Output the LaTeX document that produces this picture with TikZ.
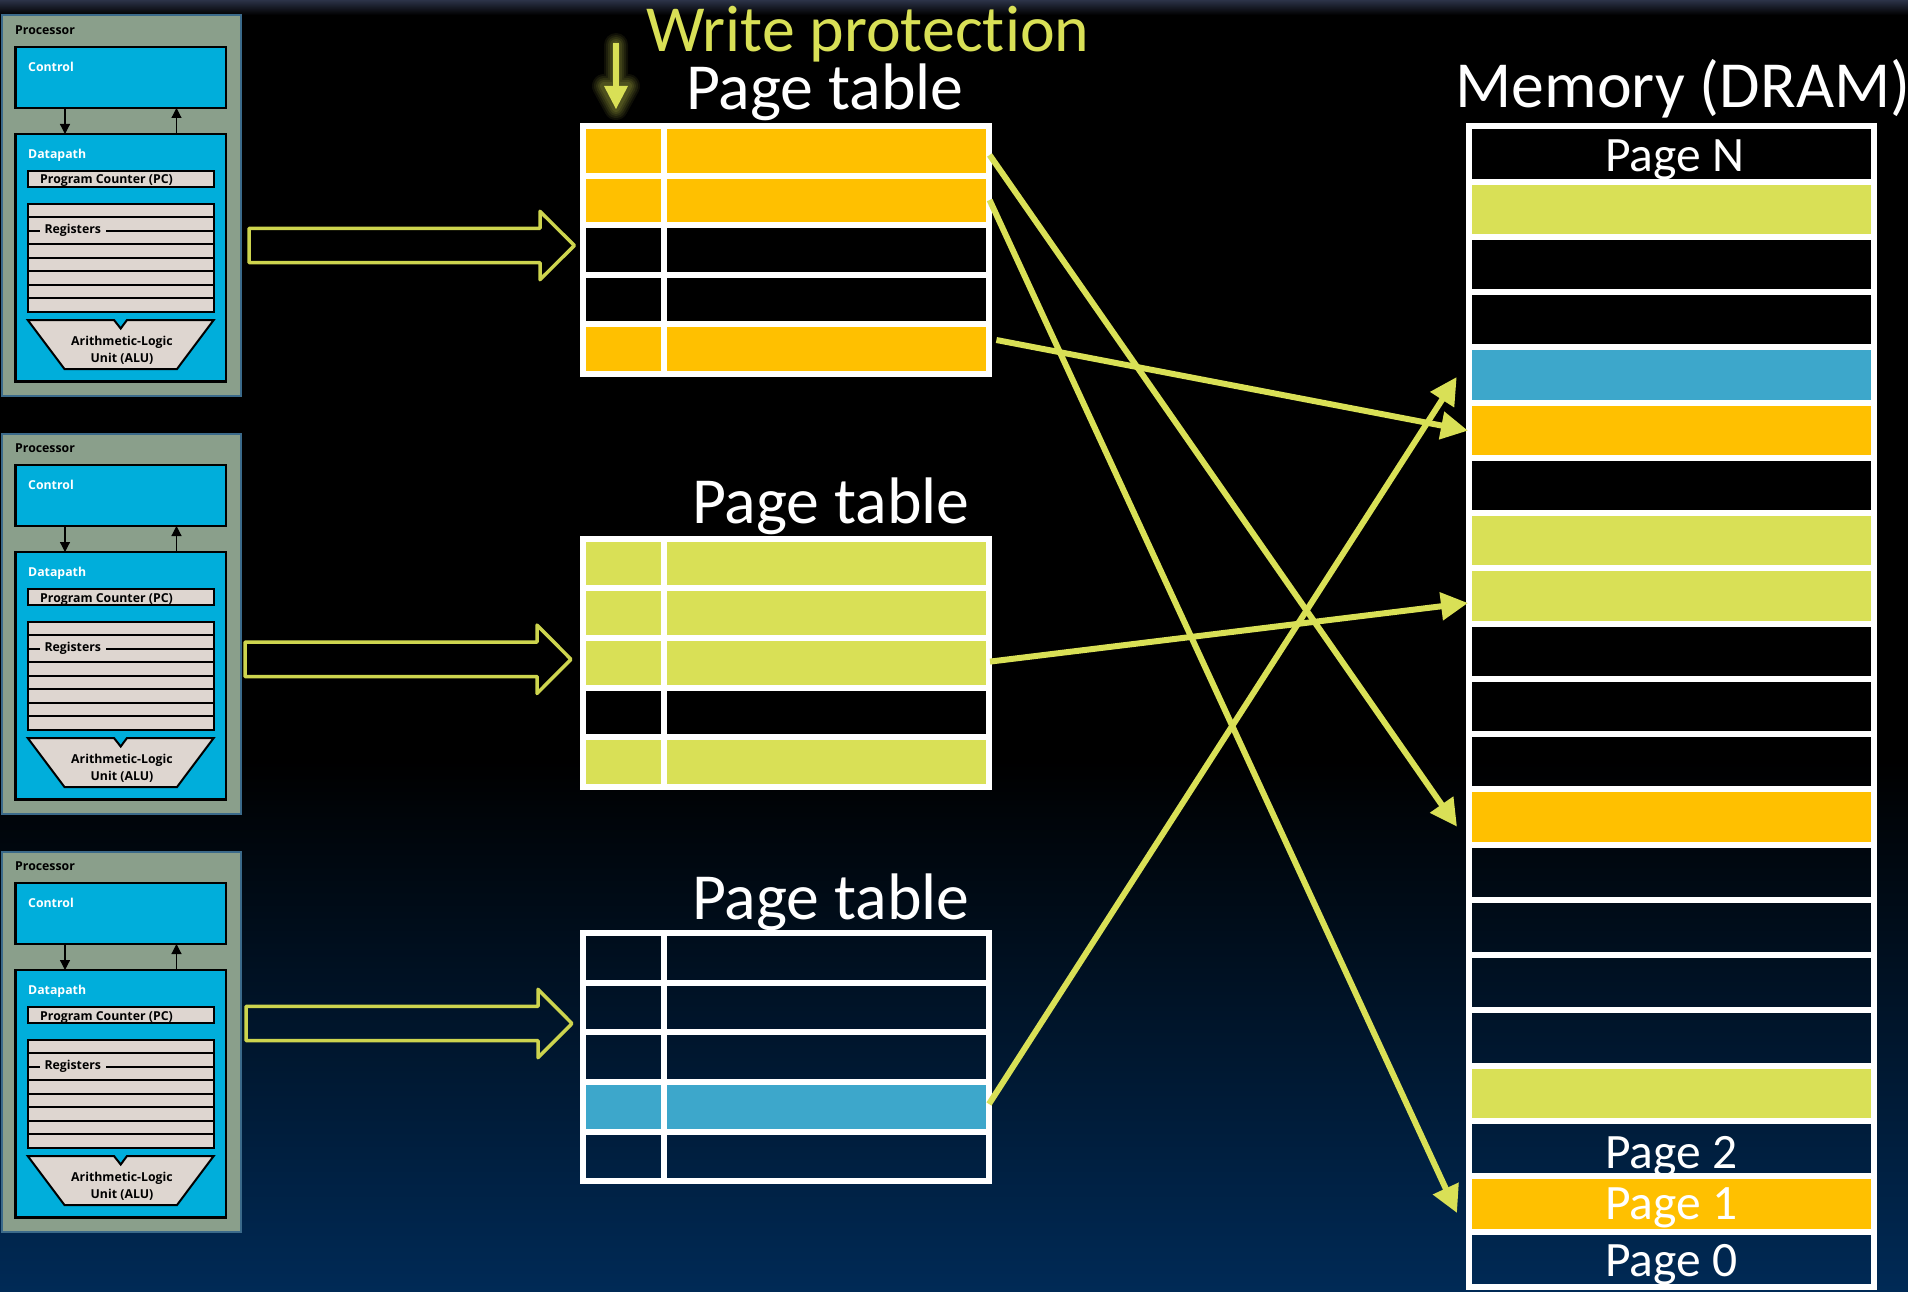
\documentclass[tikz,border=0pt]{standalone}
\usepackage{fontspec}
\setmainfont[Ligatures=NoCommon]{Carlito}
\newfontfamily\procfont{Open Sans}
\usetikzlibrary{arrows.meta,calc}
\definecolor{ylw}{HTML}{D9E056}
\definecolor{org}{HTML}{FFC000}
\definecolor{sky}{HTML}{3DA7CB}
\definecolor{procbg}{HTML}{8A9F8B}
\definecolor{procedge}{HTML}{3B6A8A}
\definecolor{cyanbox}{HTML}{00AEDB}
\definecolor{regbg}{HTML}{DED6D0}
\definecolor{arrowline}{HTML}{CDD44E}
\definecolor{topband}{HTML}{2C3348}
\definecolor{bottomband}{HTML}{002A56}
\tikzset{
  cell/.style={draw=white,line width=6pt,inner sep=0pt,outer sep=0pt,anchor=center},
  bigtext/.style={text=white,font=\fontsize{65.8}{70}\selectfont,inner sep=0pt,anchor=base west},
  pagetext/.style={text=white,font=\fontsize{49.5}{52}\selectfont,inner sep=0pt,anchor=base west},
  procouter/.style={draw=procedge,line width=2pt,fill=procbg,inner sep=0pt,outer sep=0pt,anchor=north west},
  cyanpanel/.style={draw=black,line width=2.5pt,fill=cyanbox,inner sep=0pt,outer sep=0pt,anchor=north west},
  greypanel/.style={draw=black,line width=2pt,fill=regbg,inner sep=0pt,outer sep=0pt,anchor=north west},
  ptext/.style={font=\procfont\bfseries\fontsize{12.3}{13}\selectfont,inner sep=0pt,anchor=base west},
  reg/.style={black,line width=1.8pt},
  ctlarrow/.style={black,line width=1.2pt,-{Triangle[length=10pt,width=10pt]}},
  link/.style={ylw,line width=6pt,-{Triangle[length=27pt,width=27pt]}},
  blockarrow/.style={draw=arrowline,line width=3.5pt,line join=round},
}
% #1 name, #2 y of the top rule, #3 colours
\newcommand{\ptable}[3]{%
  \foreach \rc [count=\rn] in {#3} {%
    \pgfmathsetmacro\yy{#2+(\rn-.5)*49.6}%
    \node[cell,fill=\rc,minimum width=81pt,minimum height=49.6pt] (#1f\rn) at (623.5,\yy) {};
    \node[cell,fill=\rc,minimum width=325pt,minimum height=49.6pt] (#1m\rn) at (826.5,\yy) {};
  }%
}
% #1 name, #2 y offset
\newcommand{\procblock}[2]{%
  \begin{scope}[shift={(0,#2)}]
    \node[procouter,minimum width=239pt,minimum height=380pt] (#1outer) at (1.5,15.5) {};
    \node[ptext,text=black] (#1title) at (15,34.5) {Processor};
    \node[cyanpanel,minimum width=210.5pt,minimum height=61pt] (#1ctl) at (15.3,47) {};
    \node[ptext,text=white] (#1ctltext) at (28,71.5) {Control};
    \node[cyanpanel,minimum width=210.5pt,minimum height=247.7pt] (#1dp) at (15.3,134) {};
    \node[ptext,text=white] (#1dptext) at (28,158.5) {Datapath};
    \draw[ctlarrow] ([shift={(49.7,0)}]#1ctl.south west) -- ([shift={(49.7,0)}]#1dp.north west);
    \draw[ctlarrow] ([shift={(161.2,0)}]#1dp.north west) -- ([shift={(161.2,0)}]#1ctl.south west);
    \node[greypanel,minimum width=186pt,minimum height=16.3pt] (#1pc) at (27.7,171) {};
    \node[ptext,text=black] (#1pctext) at (40,184) {Program Counter (PC)};
    \node[greypanel,minimum width=186pt,minimum height=107.4pt] (#1reg) at (27.7,204.3) {};
    \foreach \ry in {217,230.7,244.3,257.7,271,285,297.7} {
      \draw[reg] (27.7,\ry) -- (213.7,\ry);
    }
    \node[ptext,text=black,fill=regbg,inner xsep=5pt,inner ysep=1pt] (#1regtext) at (39.3,233.5) {Registers};
    \draw[black,line width=2pt,fill=regbg,line join=miter]
      (27.7,320) -- (114,320) -- (120.7,328.5) -- (127,320) -- (213.7,320)
      -- (177,369) -- (64.5,369) -- cycle;
    \node[ptext,text=black,anchor=base] (#1alua) at (122,345) {Arithmetic-Logic};
    \node[ptext,text=black,anchor=base] (#1alub) at (122,362) {Unit (ALU)};
  \end{scope}%
}
% left x, right end of body, tip x, centre y
\newcommand{\hollowarrow}[4]{%
  \draw[blockarrow] (#1,#4-17.2) -- (#2,#4-17.2) -- (#2,#4-34.2) -- (#3,#4)
     -- (#2,#4+34.2) -- (#2,#4+17.2) -- (#1,#4+17.2) -- cycle;
}
\begin{document}
\begin{tikzpicture}[x=1pt,y=-1pt]
\useasboundingbox (0,0) rectangle (1908,1292);
% background
\fill[black] (0,0) rectangle (1908,1292);
\shade[top color=topband,bottom color=black] (0,0) rectangle (1908,15);
\shade[top color=black,bottom color=bottomband] (0,760) rectangle (1908,1292);

% processors
\procblock{pA}{0}
\procblock{pB}{418}
\procblock{pC}{836}

% hollow arrows
\hollowarrow{249}{540}{574.3}{245.5}
\hollowarrow{245}{537}{571}{659.3}
\hollowarrow{246}{538}{572}{1023.5}

% write protection arrow with glow
\foreach \gw/\gop in {24/.07,20/.08,16/.09,12/.10,8/.10}{
  \draw[ylw,opacity=\gop,line width=\gw pt,line join=round,line cap=round]
    (616,45) -- (616,86) (604,86) -- (628,86) -- (616,108) -- cycle;
}
\draw[ylw,line width=5.5pt] (616,43) -- (616,88);
\fill[ylw] (604,86) -- (628,86) -- (616,109) -- cycle;
\node[bigtext,text=ylw] (wp) at (646,51.5) {Write protection};

% page tables
\ptable{tA}{126}{org,org,none,none,org}
\ptable{tB}{538.8}{ylw,ylw,ylw,none,ylw}
\ptable{tC}{933.2}{none,none,none,sky,none}
\node[bigtext] (ptA) at (686,110) {Page table};
\node[bigtext] (ptB) at (692,523) {Page table};
\node[bigtext] (ptC) at (692,919.5) {Page table};

% memory
\foreach \rc [count=\rn] in {none,ylw,none,none,sky,org,none,ylw,ylw,none,none,none,org,none,none,none,none,ylw,none,org,none}{
  \pgfmathsetmacro\yy{126.3+(\rn-.5)*55.26}
  \node[cell,fill=\rc,minimum width=405pt,minimum height=55.26pt] (mem\rn) at (1671.5,\yy) {};
}
\node[bigtext] (memtitle) at (1455.5,107.5) {Memory (DRAM)};
\node[pagetext] (pgN) at (1605,171.5) {Page N};
\node[pagetext] (pg2) at (1605,1168) {Page 2};
\node[pagetext] (pg1) at (1605,1219) {Page 1};
\node[pagetext] (pg0) at (1605,1276) {Page 0};

% links
\draw[link] ([shift={(.6,4.2)}]tAm1.east) -- ([shift={(-12,9.65)}]mem13.west);
\draw[link] ([shift={(.6,-.4)}]tAm2.east) -- ([shift={(-12,9.1)}]mem20.west);
\draw[link] ([shift={(7.4,-9.2)}]tAm5.east) -- ([shift={(-1,.4)}]mem6.west);
\draw[link] ([shift={(1,-1.2)}]tBm3.east) -- ([shift={(-1,7)}]mem9.west);
\draw[link] ([shift={(0,-2.8)}]tCm4.east) -- ([shift={(-12.3,2)}]mem5.west);
\end{tikzpicture}
\end{document}
